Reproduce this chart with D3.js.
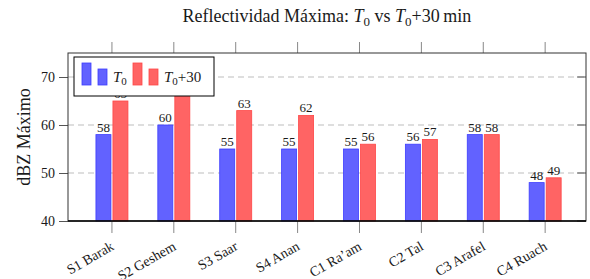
<!DOCTYPE html>
<html>
<head>
<meta charset="utf-8">
<script src="https://cdn.jsdelivr.net/npm/d3@7"></script>
<style>
  body { margin: 0; background: #fff; }
  svg text { font-family: "Liberation Serif", "DejaVu Serif", serif; fill: #1a1a1a; }
</style>
</head>
<body>
<div id="chart"></div>
<script>
var categories = ["S1 Barak", "S2 Geshem", "S3 Saar", "S4 Anan", "C1 Ra\u2019am", "C2 Tal", "C3 Arafel", "C4 Ruach"];
var t0Values = [58, 60, 55, 55, 55, 56, 58, 48];
var t30Values = [65, 67, 63, 62, 56, 57, 58, 49];
var yTicks = [40, 50, 60, 70];

var width = 590, height = 279;
var pLeft = 68, pRight = 586, pTop = 53, pBottom = 221;
var barW = 15, off = 8.5;
var blueFill = "#6262ff", blueStroke = "#3d3dff", redFill = "#ff6464", redStroke = "#ff4646";

var svg = d3.select("#chart").append("svg")
    .attr("width", width).attr("height", height);

var x = d3.scaleLinear().domain([-0.71, 7.66]).range([pLeft, pRight]);
var y = d3.scaleLinear().domain([40, 75]).range([pBottom, pTop]);

// grid
svg.append("g").selectAll("line")
    .data(yTicks.filter(function(d) { return d > 40; }))
    .enter().append("line")
    .attr("x1", pLeft).attr("x2", pRight)
    .attr("y1", function(d) { return y(d); }).attr("y2", function(d) { return y(d); })
    .attr("stroke", "#bdbdbd").attr("stroke-width", 1)
    .attr("stroke-dasharray", "6,4");

// y axis left, ticks outside
var yAxis = svg.append("g").attr("transform", "translate(" + pLeft + ",0)")
    .call(d3.axisLeft(y).tickValues(yTicks).tickSize(9).tickPadding(4));
yAxis.select(".domain").remove();
yAxis.selectAll("line").attr("stroke", "#555");
yAxis.selectAll("text").attr("font-size", 14).attr("font-family", "Liberation Serif").attr("fill", "#1a1a1a");

// right ticks inside
svg.append("g").selectAll("line")
    .data(yTicks)
    .enter().append("line")
    .attr("x1", pRight - 9).attr("x2", pRight)
    .attr("y1", function(d) { return y(d); }).attr("y2", function(d) { return y(d); })
    .attr("stroke", "#555");

// x ticks top and bottom
var idx = d3.range(categories.length);
svg.append("g").selectAll("line").data(idx).enter().append("line")
    .attr("x1", function(i) { return x(i); }).attr("x2", function(i) { return x(i); })
    .attr("y1", pTop - 11).attr("y2", pTop)
    .attr("stroke", "#888");
svg.append("g").selectAll("line").data(idx).enter().append("line")
    .attr("x1", function(i) { return x(i); }).attr("x2", function(i) { return x(i); })
    .attr("y1", pBottom).attr("y2", pBottom + 12)
    .attr("stroke", "#888");

// bars
var bars = svg.append("g");
bars.selectAll("rect.t0").data(t0Values).enter().append("rect")
    .attr("class", "t0")
    .attr("x", function(d, i) { return x(i) - off - barW / 2; })
    .attr("y", function(d) { return y(d); })
    .attr("width", barW)
    .attr("height", function(d) { return pBottom - y(d); })
    .attr("fill", blueFill).attr("stroke", blueStroke).attr("stroke-width", 0.8);
bars.selectAll("rect.t30").data(t30Values).enter().append("rect")
    .attr("class", "t30")
    .attr("x", function(d, i) { return x(i) + off - barW / 2; })
    .attr("y", function(d) { return y(d); })
    .attr("width", barW)
    .attr("height", function(d) { return pBottom - y(d); })
    .attr("fill", redFill).attr("stroke", redStroke).attr("stroke-width", 0.8);

// value labels
bars.selectAll("text.l0").data(t0Values).enter().append("text")
    .attr("x", function(d, i) { return x(i) - off; })
    .attr("y", function(d) { return y(d) - 3; })
    .attr("text-anchor", "middle").attr("font-size", 13)
    .text(function(d) { return d; });
bars.selectAll("text.l30").data(t30Values).enter().append("text")
    .attr("x", function(d, i) { return x(i) + off; })
    .attr("y", function(d) { return y(d) - 3; })
    .attr("text-anchor", "middle").attr("font-size", 13)
    .text(function(d) { return d; });

// frame
svg.append("rect")
    .attr("x", pLeft).attr("y", pTop)
    .attr("width", pRight - pLeft).attr("height", pBottom - pTop)
    .attr("fill", "none").attr("stroke", "#333").attr("stroke-width", 1);
svg.append("line").attr("x1", pLeft).attr("x2", pRight).attr("y1", pBottom).attr("y2", pBottom)
    .attr("stroke", "#000").attr("stroke-width", 1.5);

// x labels rotated
svg.append("g").selectAll("text").data(categories).enter().append("text")
    .attr("transform", function(d, i) { return "translate(" + (x(i) + 3) + "," + 249 + ") rotate(-30)"; })
    .attr("text-anchor", "end").attr("font-size", 14)
    .text(function(d) { return d; });

// y label
svg.append("text")
    .attr("transform", "translate(30," + ((pTop + pBottom) / 2) + ") rotate(-90)")
    .attr("text-anchor", "middle").attr("font-size", 18)
    .text("dBZ Máximo");

// title
var title = svg.append("text")
    .attr("x", (pLeft + pRight) / 2).attr("y", 22)
    .attr("text-anchor", "middle").attr("font-size", 18);
title.append("tspan").text("Reflectividad Máxima: ");
title.append("tspan").attr("font-style", "italic").text("T");
title.append("tspan").attr("dy", 4).attr("font-size", 13).text("0");
title.append("tspan").attr("dy", -4).text(" vs ");
title.append("tspan").attr("font-style", "italic").text("T");
title.append("tspan").attr("dy", 4).attr("font-size", 13).text("0");
title.append("tspan").attr("dy", -4).text("+30\u2009min");

// legend
var lg = svg.append("g");
lg.append("rect").attr("x", 74).attr("y", 57).attr("width", 140).attr("height", 39)
    .attr("fill", "#fff").attr("stroke", "#000").attr("stroke-width", 1);
var legendItems = [
    {name: "T", x: 82, fill: blueFill, stroke: blueStroke},
    {name: "T", x: 133, fill: redFill, stroke: redStroke, suffix: "+30"}
];
legendItems.forEach(function(it) {
    lg.append("rect").attr("x", it.x).attr("y", 63).attr("width", 9).attr("height", 22)
        .attr("fill", it.fill).attr("stroke", it.stroke).attr("stroke-width", 0.8);
    lg.append("rect").attr("x", it.x + 16).attr("y", 69).attr("width", 9).attr("height", 16)
        .attr("fill", it.fill).attr("stroke", it.stroke).attr("stroke-width", 0.8);
    var t = lg.append("text").attr("x", it.x + 31).attr("y", 82).attr("font-size", 15);
    t.append("tspan").attr("font-style", "italic").text(it.name);
    t.append("tspan").attr("dy", 3).attr("font-size", 11).text("0");
    if (it.suffix) t.append("tspan").attr("dy", -3).text(it.suffix);
});
</script>
</body>
</html>
